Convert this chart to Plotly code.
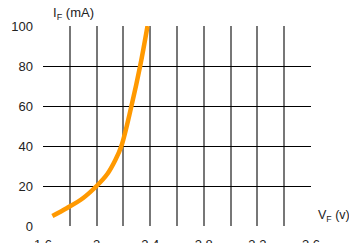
import plotly.graph_objects as go

# Data
vf_volts = [1.67, 1.78, 1.90, 2.00, 2.08, 2.14, 2.185, 2.26, 2.325, 2.38]
if_ma = [5, 9, 14, 20, 26, 33, 40, 60, 80, 100]

x_grid_vals = [1.6, 1.8, 2.0, 2.2, 2.4, 2.6, 2.8, 3.0, 3.2, 3.4, 3.6]
x_tick_text = ["1.6", "", "2", "", "2.4", "", "2.8", "", "3.2", "", "3.6"]
y_tick_vals = [0, 20, 40, 60, 80, 100]

FONT = "Liberation Sans, Arial, sans-serif"

fig = go.Figure()
fig.add_trace(go.Scatter(
    x=vf_volts, y=if_ma, mode="lines",
    line=dict(color="#FF9900", width=4.5, shape="spline", smoothing=1.0),
    hoverinfo="skip", showlegend=False,
))

# page body has an 8px margin, so margins are compensated
fig.update_layout(
    width=357, height=243,
    margin=dict(l=35, r=54, t=18, b=25, autoexpand=False),
    paper_bgcolor="white", plot_bgcolor="white",
    font=dict(family=FONT, size=13, color="#222"),
    xaxis=dict(
        range=[1.6, 3.6], tickvals=x_grid_vals, ticktext=x_tick_text,
        showgrid=True, gridcolor="#777", gridwidth=1.5,
        zeroline=False, showline=False, ticks="",
        ticklabelstandoff=9, automargin=False,
        tickfont=dict(family=FONT, size=13, color="#222"),
    ),
    yaxis=dict(
        range=[0, 100], tickvals=y_tick_vals,
        showgrid=True, gridcolor="#000", gridwidth=1,
        zeroline=False, showline=False, ticks="",
        ticklabelstandoff=9, automargin=False,
        tickfont=dict(family=FONT, size=13, color="#222"),
    ),
    annotations=[
        dict(text="I<sub>F</sub> (mA)", xref="paper", yref="paper",
             x=0.03, y=1.01, xanchor="left", yanchor="bottom",
             showarrow=False, font=dict(family=FONT, size=13, color="#222")),
        dict(text="V<sub>F</sub> (v)", xref="paper", yref="paper",
             x=1.018, y=0.0, xanchor="left", yanchor="bottom",
             showarrow=False, font=dict(family=FONT, size=12.5, color="#222")),
    ],
)

fig.write_html("out.html")
